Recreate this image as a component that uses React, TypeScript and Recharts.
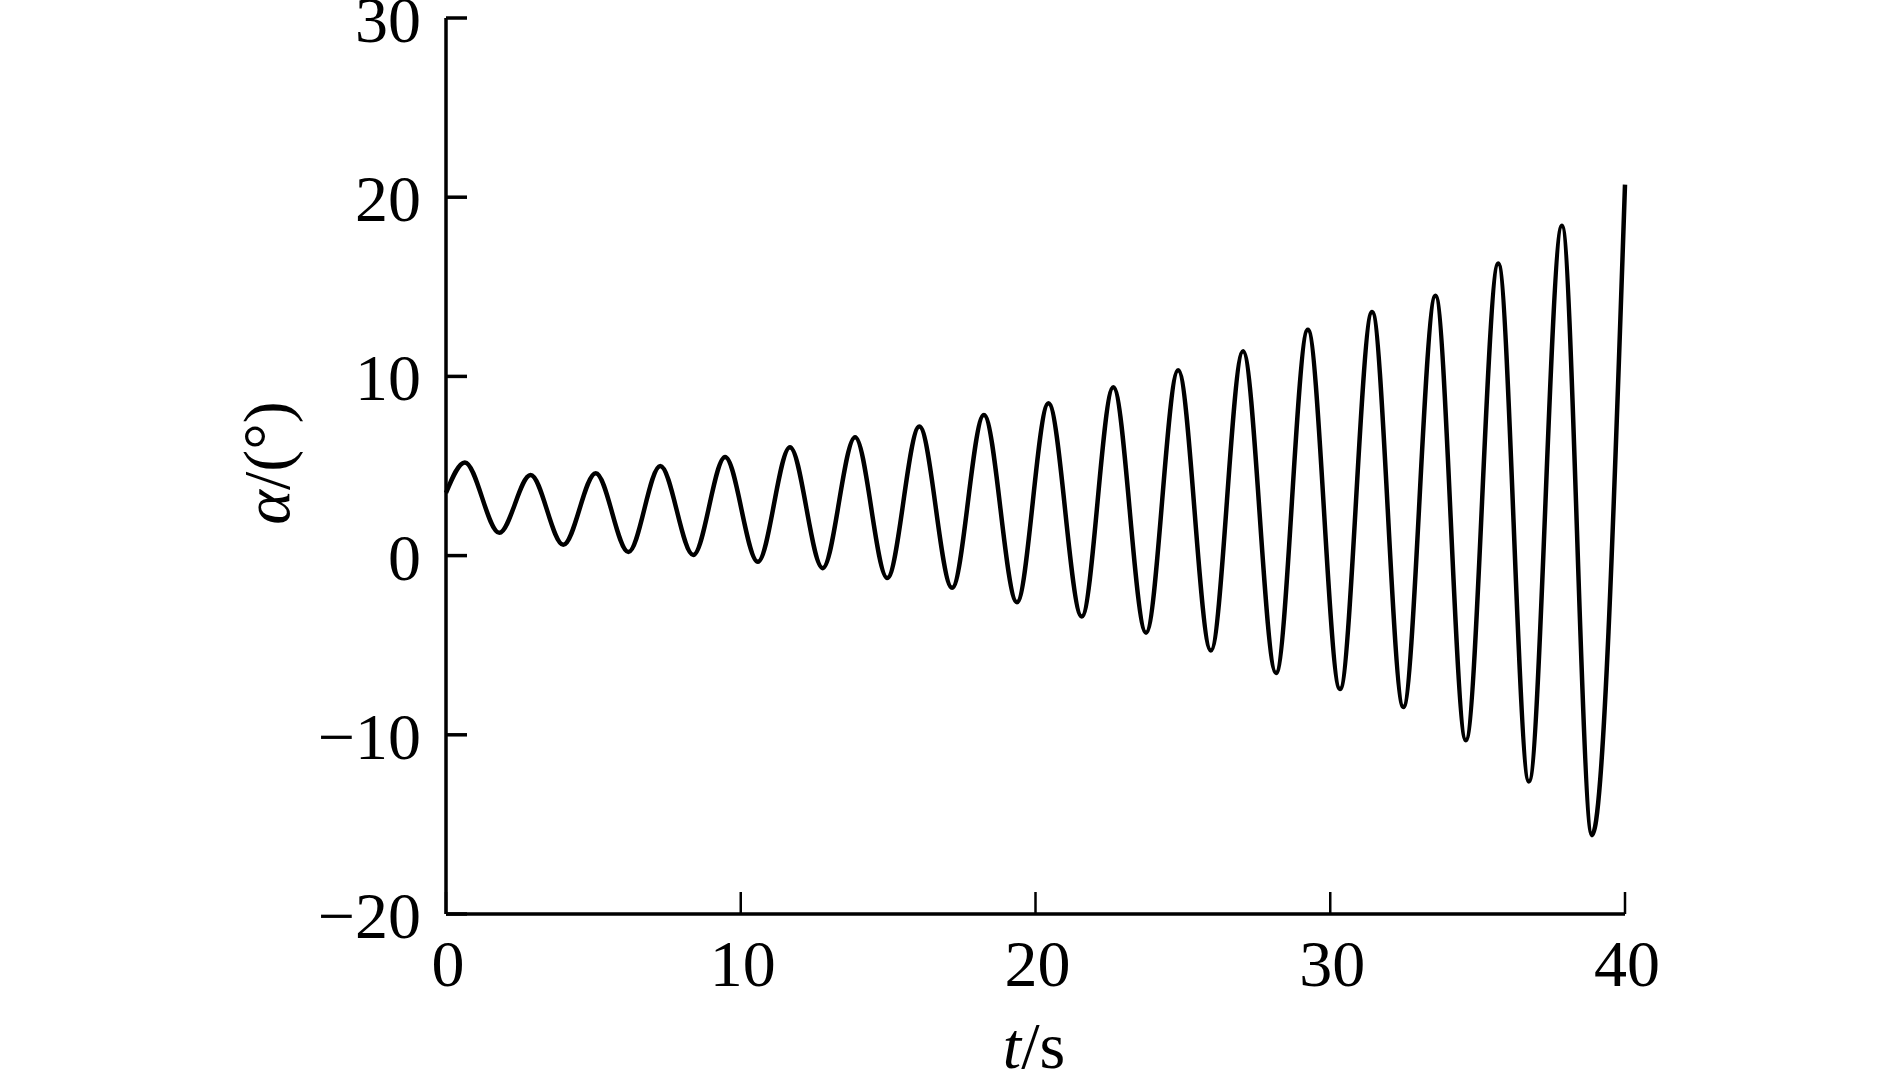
import React from "react";
import { LineChart, Line, XAxis, YAxis } from "recharts";

const times = [0, 0.64, 1.81, 2.87, 3.98, 5.08, 6.19, 7.27, 8.39, 9.47, 10.58, 11.67, 12.78, 13.88, 14.97, 16.06, 17.17, 18.25, 19.37, 20.44, 21.57, 22.64, 23.75, 24.84, 25.95, 27.04, 28.16, 29.24, 30.33, 31.42, 32.48, 33.57, 34.6, 35.7, 36.74, 37.86, 38.88, 40];
const alpha = [3.5, 5.2, 1.27, 4.5, 0.6, 4.6, 0.2, 5.0, 0.03, 5.5, -0.35, 6.05, -0.7, 6.6, -1.25, 7.2, -1.8, 7.85, -2.6, 8.5, -3.4, 9.4, -4.3, 10.35, -5.3, 11.4, -6.55, 12.6, -7.45, 13.6, -8.45, 14.5, -10.3, 16.3, -12.6, 18.4, -15.6, 20.7];
const xTicks = [0, 10, 20, 30, 40];
const yTicks = [-20, -10, 0, 10, 20, 30];

const data = times.map((t, i) => ({ t, a: alpha[i] }));

const FONT = '"Liberation Serif", "Times New Roman", serif';
const FS = 66;

const fmt = (v: number) => (v < 0 ? "\u2212" + Math.abs(v) : String(v));

const YTick = (props: any) => {
  const { x, y, payload } = props;
  return (
    <g>
      <line x1={x} x2={x + 21} y1={y} y2={y} stroke="#000" strokeWidth={3.5} />
      <text x={x - 25} y={y} dy={24} textAnchor="end" fontFamily={FONT} fontSize={FS} fill="#000">
        {fmt(payload.value)}
      </text>
    </g>
  );
};

const XTick = (props: any) => {
  const { x, y, payload } = props;
  return (
    <g>
      <line x1={x} x2={x} y1={y} y2={y - 22} stroke="#000" strokeWidth={2.5} />
      <text x={x + 2} y={y} dy={72} textAnchor="middle" fontFamily={FONT} fontSize={FS} fill="#000">
        {fmt(payload.value)}
      </text>
    </g>
  );
};

export default function App() {
  return (
    <div style={{ position: "absolute", left: 0, top: 0, background: "#fff" }}>
      <LineChart
        width={1889}
        height={1070}
        data={data}
        margin={{ top: 18, right: 264, bottom: 0, left: 0 }}
      >
        <XAxis
          type="number"
          dataKey="t"
          domain={[0, 40]}
          ticks={xTicks}
          height={156}
          tickSize={0}
          tickMargin={0}
          tickLine={false}
          axisLine={{ stroke: "#000", strokeWidth: 3.5 }}
          tick={<XTick />}
          interval={0}
          label={{
            content: () => (
              <text x={1034} y={1068} textAnchor="middle" fontFamily={FONT} fontSize={FS} fill="#000">
                <tspan fontStyle="italic">t</tspan>/s
              </text>
            ),
          }}
        />
        <YAxis
          type="number"
          domain={[-20, 30]}
          ticks={yTicks}
          width={446}
          tickSize={0}
          tickMargin={0}
          tickLine={false}
          axisLine={{ stroke: "#000", strokeWidth: 3.5 }}
          tick={<YTick />}
          interval={0}
          label={{
            content: () => (
              <text
                x={289}
                y={463}
                transform="rotate(-90, 289, 463)"
                textAnchor="middle"
                fontFamily={FONT}
                fontSize={FS}
                fill="#000"
              >
                <tspan fontStyle="italic">α</tspan>/(°)
              </text>
            ),
          }}
        />
        <Line
          type="monotone"
          dataKey="a"
          stroke="#000"
          strokeWidth={4.5}
          dot={false}
          isAnimationActive={false}
        />
      </LineChart>
    </div>
  );
}
